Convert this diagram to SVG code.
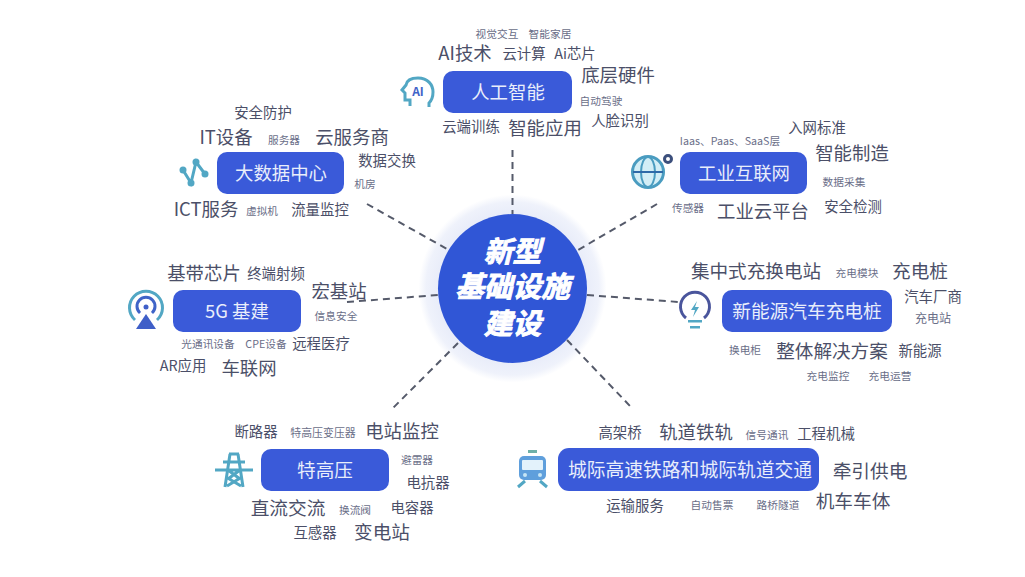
<svg xmlns="http://www.w3.org/2000/svg" width="1025" height="577" viewBox="0 0 1025 577">
<style>
text{font-family:"Noto Sans CJK SC","Noto Sans",sans-serif;text-anchor:middle;fill:#4b4f68}
.n{fill:#e9eefb;font-size:18.4px}
.box{fill:#3a5ad9}
.l{font-size:18.4px}
.m{font-size:14.4px}
.s{font-size:10.7px;fill:#6a6e88}
text.c{font-family:"Liberation Sans","Noto Sans CJK SC",sans-serif;fill:#fff;stroke:#fff;stroke-width:.9px;font-size:28.7px;font-weight:700;font-style:italic}
.ic{fill:none;stroke:#52a7c4;stroke-width:3}
.icd{fill:none;stroke:#3f64c8;stroke-width:3}
.tf{fill:#52a7c4}
.bf{fill:#3f5fc8}
#connectors line{stroke:#555a6a;stroke-width:2;stroke-dasharray:7 5}
</style>
<defs>
<radialGradient id="halo" cx="0.5" cy="0.5" r="0.5">
<stop offset="0.78" stop-color="#e8ecf9"/>
<stop offset="0.92" stop-color="#eff2fb"/>
<stop offset="1" stop-color="#ffffff"/>
</radialGradient>
</defs>
<rect width="1025" height="577" fill="#fff"/>
<g id="center">
<circle cx="512.5" cy="288.5" r="94" fill="url(#halo)"/>
<circle cx="512.5" cy="288.5" r="74.5" fill="#3056d6"/>
<text class="c" x="512.5" y="262">新型</text>
<text class="c" x="512.5" y="297">基础设施</text>
<text class="c" x="512.5" y="334">建设</text>
</g>
<g id="connectors">
<line x1="512.500" y1="150" x2="512.500" y2="214"/>
<line x1="367" y1="204" x2="447" y2="249"/>
<line x1="657" y1="204" x2="578" y2="250"/>
<line x1="347" y1="302" x2="438" y2="295"/>
<line x1="587" y1="295" x2="679" y2="302"/>
<line x1="458" y1="343" x2="393" y2="408"/>
<line x1="567" y1="340" x2="630" y2="406"/>
</g>
<g id="node-ai">
<path class="ic" d="M410 106V100H405V93L402 90L406 85C407 79 412 78 418 78C428 78 433 85 433 92C433 98 431 101 429 103V107"/>
<text x="418" y="96" font-size="12" font-weight="700" style="fill:#3f64c8">AI</text>
<rect class="box" x="443" y="71" width="129" height="42" rx="10"/>
<text class="n" x="508" y="98.500">人工智能</text>
<text class="s" x="497" y="38">视觉交互</text>
<text class="s" x="550" y="38">智能家居</text>
<text class="l" x="465" y="59.500">AI技术</text>
<text class="m" x="524" y="59">云计算</text>
<text class="m" x="575" y="59">Ai芯片</text>
<text class="l" x="618" y="81.500">底层硬件</text>
<text class="s" x="601" y="105">自动驾驶</text>
<text class="m" x="620" y="126">人脸识别</text>
<text class="m" x="471" y="132">云端训练</text>
<text class="l" x="545" y="134.500">智能应用</text>
</g>
<g id="node-bigdata">
<polyline class="ic" points="183,170 191,183 196,162 205,174" stroke-width="3.500"/>
<circle class="tf" cx="183" cy="170" r="3.500"/><circle class="tf" cx="196" cy="162" r="3.500"/><circle class="tf" cx="205" cy="174" r="3.500"/><circle class="tf" cx="191" cy="183" r="3.500"/>
<rect class="box" x="217" y="152" width="127" height="42" rx="10"/>
<text class="n" x="281" y="179.500">大数据中心</text>
<text class="m" x="263" y="118">安全防护</text>
<text class="l" x="226" y="143.500">IT设备</text>
<text class="s" x="284" y="144">服务器</text>
<text class="l" x="352" y="143.500">云服务商</text>
<text class="m" x="387" y="166">数据交换</text>
<text class="s" x="365" y="188">机房</text>
<text class="l" x="206" y="215.500">ICT服务</text>
<text class="s" x="262" y="215">虚拟机</text>
<text class="m" x="320" y="215">流量监控</text>
</g>
<g id="node-industrial">
<circle cx="648" cy="172" r="15.500" fill="#d3eef6" stroke="#4a9cc0" stroke-width="3"/>
<ellipse cx="648" cy="172" rx="7" ry="15" fill="none" stroke="#4a9cc0" stroke-width="2"/>
<line x1="633" y1="172" x2="663" y2="172" stroke="#2f6aa8" stroke-width="2"/>
<circle cx="668" cy="159" r="3.500" fill="#fff" stroke="#3c4f7c" stroke-width="3"/>
<rect class="box" x="680" y="152" width="127" height="42" rx="10"/>
<text class="n" x="744" y="179.500">工业互联网</text>
<text class="s" x="730" y="145">Iaas、Paas、SaaS层</text>
<text class="m" x="817" y="133">入网标准</text>
<text class="l" x="852" y="159.500">智能制造</text>
<text class="s" x="844" y="186">数据采集</text>
<text class="s" x="688" y="212">传感器</text>
<text class="l" x="763" y="217.500">工业云平台</text>
<text class="m" x="853" y="212">安全检测</text>
</g>
<g id="node-5g">
<path class="ic" d="M135 320A16.500 16.500 0 1 1 157 320" stroke="#62b0b8"/>
<path class="icd" d="M140 313A9 9 0 1 1 152 313" stroke-width="2.500"/>
<circle class="bf" cx="146" cy="307" r="2.500"/>
<path class="bf" d="M146 314L156 329H136Z"/>
<rect class="box" x="173" y="290" width="128" height="42" rx="10"/>
<text class="n" x="237" y="317.500">5G 基建</text>
<text class="l" x="204" y="279.500">基带芯片</text>
<text class="m" x="276" y="279">终端射频</text>
<text class="l" x="339" y="297.500">宏基站</text>
<text class="s" x="336" y="320">信息安全</text>
<text class="s" x="208" y="348">光通讯设备</text>
<text class="s" x="266" y="348">CPE设备</text>
<text class="m" x="321" y="349">远程医疗</text>
<text class="m" x="183" y="371">AR应用</text>
<text class="l" x="249" y="374.500">车联网</text>
</g>
<g id="node-nev">
<path d="M686 318A14.500 14.500 0 1 1 704 318" fill="none" stroke="#4a559c" stroke-width="3"/>
<path class="tf" d="M697 301L691 310H695L693 317L699 307H695Z"/>
<rect class="tf" x="688" y="320" width="14" height="2.500"/>
<rect class="tf" x="690" y="326" width="10" height="2.500"/>
<rect class="box" x="722" y="290" width="170" height="42" rx="10"/>
<text class="n" x="807" y="317.500" style="font-size:18.700px">新能源汽车充电桩</text>
<text class="l" x="756" y="277.500" style="font-size:18.600px">集中式充换电站</text>
<text class="s" x="857" y="277">充电模块</text>
<text class="l" x="920" y="277.500" style="font-size:18.600px">充电桩</text>
<text class="m" x="933" y="302">汽车厂商</text>
<text class="s" x="933" y="323" style="font-size:12px">充电站</text>
<text class="s" x="745" y="354">换电柜</text>
<text class="l" x="832" y="357.500" style="font-size:18.600px">整体解决方案</text>
<text class="m" x="920" y="356">新能源</text>
<text class="s" x="828" y="380">充电监控</text>
<text class="s" x="890" y="380">充电运营</text>
</g>
<g id="node-uhv">
<path class="ic" stroke-width="2.500" d="M229 454H239M230 454L225 487M238 454L243 487M215 470H253M223 462H245M226 477L241 486M242 477L227 486M228 470L240 479M240 470L228 479"/>
<rect class="box" x="261" y="449" width="128" height="42" rx="10"/>
<text class="n" x="325" y="476.500" style="font-size:18.600px">特高压</text>
<text class="m" x="256" y="437">断路器</text>
<text class="s" x="323" y="437" style="font-size:10.900px">特高压变压器</text>
<text class="l" x="402" y="437.500">电站监控</text>
<text class="s" x="417" y="464">避雷器</text>
<text class="m" x="428" y="488">电抗器</text>
<text class="l" x="288" y="514.500" style="font-size:18.700px">直流交流</text>
<text class="s" x="355" y="514">换流阀</text>
<text class="m" x="412" y="513">电容器</text>
<text class="m" x="315" y="538">互感器</text>
<text class="l" x="382" y="538.500" style="font-size:18.600px">变电站</text>
</g>
<g id="node-rail">
<rect x="528" y="450" width="9" height="3" fill="#6fb0a8"/>
<rect x="519" y="456" width="27" height="24" rx="5" fill="#5f9fdc"/>
<rect x="522" y="460" width="21" height="10" rx="1" fill="#e3f2fb"/>
<circle cx="525" cy="475" r="2" fill="#c7e6f5"/><circle cx="540" cy="475" r="2" fill="#c7e6f5"/>
<path class="ic" stroke-width="2.500" d="M525 481L518 487M540 481L547 487"/>
<rect class="box" x="558" y="448" width="261" height="43" rx="11"/>
<text class="n" x="690" y="476.500" style="font-size:18.800px">城际高速铁路和城际轨道交通</text>
<text class="m" x="620" y="438">高架桥</text>
<text class="l" x="696" y="438.500">轨道铁轨</text>
<text class="s" x="767" y="439">信号通讯</text>
<text class="m" x="826" y="439">工程机械</text>
<text class="l" x="870" y="477.500" style="font-size:18.700px">牵引供电</text>
<text class="m" x="635" y="511">运输服务</text>
<text class="s" x="712" y="509">自动售票</text>
<text class="s" x="778" y="509">路桥隧道</text>
<text class="l" x="853" y="507.500" style="font-size:18.700px">机车车体</text>
</g>
</svg>
